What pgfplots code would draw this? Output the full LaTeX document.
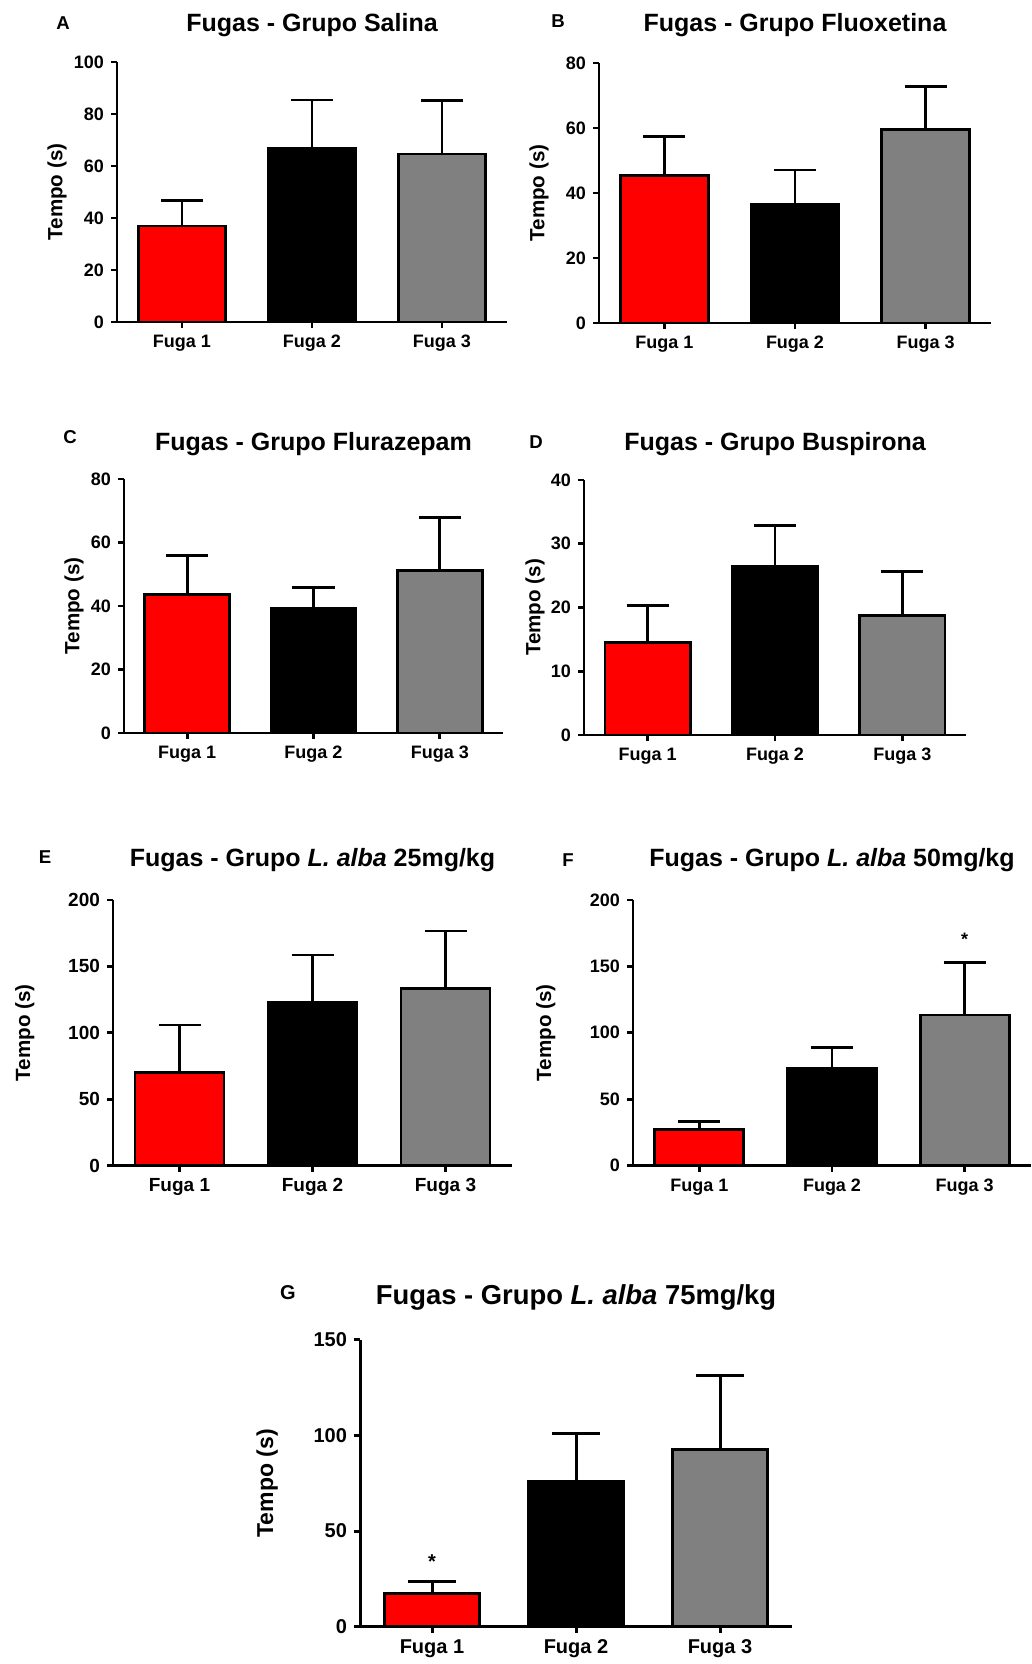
\documentclass[border=0pt]{standalone}
\usepackage{fontspec}
\setmainfont{Liberation Sans}
\usepackage{pgfplots}
\pgfplotsset{compat=1.18}
\definecolor{bred}{RGB}{255,0,0}
\definecolor{bgray}{RGB}{128,128,128}
\pgfplotsset{
 panel/.style={
  scale only axis,
  anchor=south west,
  axis x line=bottom, axis y line=left,
  axis line style={-, line width=1.4pt, black},
  xmin=-0.5, xmax=2.5, xtick={0,1,2}, xticklabels={Fuga 1, Fuga 2, Fuga 3},
  ymin=0,
  tick align=outside, major tick length=3pt,
  tick style={line width=1.4pt, black},
  ticklabel style={font=\bfseries\fontsize{9}{10}\selectfont},
  /pgf/number format/assume math mode=true,
  ylabel={Tempo (s)},
  ylabel style={font=\bfseries\fontsize{10.3}{12}\selectfont, anchor=center},
  title style={font=\bfseries\fontsize{12.5}{14}\selectfont, at={(0.5,1)}, anchor=center},
  ybar, bar width=0.67, bar shift=0pt,
  clip=false,
 },
 eb/.style={draw=black, line width=1.4pt,
  error bars/y dir=plus, error bars/y explicit,
  error bars/error bar style={line width=1.4pt, black},
  error bars/error mark options={rotate=90, line width=1.4pt, mark size=10.5pt, black}},
 ebg/.style={draw=black, line width=1.5pt,
  error bars/y dir=plus, error bars/y explicit,
  error bars/error bar style={line width=1.5pt, black},
  error bars/error mark options={rotate=90, line width=1.5pt, mark size=12pt, black}},
}
\begin{document}
\begin{tikzpicture}
\path[use as bounding box] (0,0) rectangle (516pt,832pt);
\tikzset{plabel/.style={font=\bfseries\fontsize{9.3}{10}\selectfont, anchor=center}}
\node[plabel] at (31.5pt,820.5pt) {A};
\node[plabel] at (279pt,821.5pt) {B};
\node[plabel] at (35pt,613.5pt) {C};
\node[plabel] at (268pt,611pt) {D};
\node[plabel] at (22.5pt,403.5pt) {E};
\node[plabel] at (284pt,402pt) {F};
\node[plabel, font=\bfseries\fontsize{10}{11}\selectfont] at (144pt,185.5pt) {G};

% A
\begin{axis}[panel, at={(58.5pt,671pt)}, width=195pt, height=130pt,
  ymax=100, ytick={0,20,...,100},
  title={Fugas - Grupo Salina}, title style={yshift=12.5pt},
  ylabel style={at={(axis description cs:-0.154,0.5)}}]
\addplot[fill=bred, eb] coordinates {(0,36.9) +- (0,9.8)};
\addplot[fill=black, eb] coordinates {(1,66.8) +- (0,18.6)};
\addplot[fill=bgray, eb] coordinates {(2,64.6) +- (0,20.5)};
\end{axis}

% B
\begin{axis}[panel, at={(299.5pt,670.5pt)}, width=196pt, height=130pt,
  ymax=80, ytick={0,20,...,80},
  title={Fugas - Grupo Fluoxetina}, title style={yshift=13pt},
  ylabel style={at={(axis description cs:-0.153,0.5)}}]
\addplot[fill=bred, eb] coordinates {(0,45.5) +- (0,12.0)};
\addplot[fill=black, eb] coordinates {(1,36.6) +- (0,10.5)};
\addplot[fill=bgray, eb] coordinates {(2,59.6) +- (0,13.1)};
\end{axis}

% C
\begin{axis}[panel, at={(62pt,465.5pt)}, width=189.5pt, height=127pt,
  ymax=80, ytick={0,20,...,80},
  title={Fugas - Grupo Flurazepam}, title style={yshift=11.5pt},
  ylabel style={at={(axis description cs:-0.132,0.5)}}]
\addplot[fill=bred, eb] coordinates {(0,43.5) +- (0,12.3)};
\addplot[fill=black, eb] coordinates {(1,39.3) +- (0,6.6)};
\addplot[fill=bgray, eb] coordinates {(2,51.3) +- (0,16.5)};
\end{axis}

% D
\begin{axis}[panel, at={(292pt,464.5pt)}, width=191pt, height=127.5pt,
  ymax=40, ytick={0,10,...,40},
  title={Fugas - Grupo Buspirona}, title style={yshift=12pt},
  ylabel style={at={(axis description cs:-0.128,0.5)}}]
\addplot[fill=bred, eb] coordinates {(0,14.5) +- (0,5.8)};
\addplot[fill=black, eb] coordinates {(1,26.4) +- (0,6.4)};
\addplot[fill=bgray, eb] coordinates {(2,18.7) +- (0,7.0)};
\end{axis}

% E
\begin{axis}[panel, at={(56.5pt,249.2pt)}, width=199.5pt, height=132.8pt,
  ymax=200, ytick={0,50,...,200},
  ticklabel style={font=\bfseries\fontsize{9.5}{10}\selectfont},
  title={Fugas - Grupo \textit{L. alba} 25mg/kg}, title style={yshift=14pt},
  ylabel style={at={(axis description cs:-0.221,0.5)}}]
\addplot[fill=bred, eb] coordinates {(0,70.3) +- (0,35.6)};
\addplot[fill=black, eb] coordinates {(1,122.7) +- (0,35.9)};
\addplot[fill=bgray, eb] coordinates {(2,133.5) +- (0,43.2)};
\end{axis}

% F
\begin{axis}[panel, at={(316.5pt,249.2pt)}, width=199pt, height=132.8pt,
  ymax=200, ytick={0,50,...,200},
  title={Fugas - Grupo \textit{L. alba} 50mg/kg}, title style={yshift=14pt},
  ylabel style={at={(axis description cs:-0.219,0.5)}}]
\addplot[fill=bred, eb] coordinates {(0,26.9) +- (0,6.2)};
\addplot[fill=black, eb] coordinates {(1,73.3) +- (0,15.8)};
\addplot[fill=bgray, eb] coordinates {(2,113.4) +- (0,39.4)};
\node[font=\bfseries\fontsize{9}{10}\selectfont, anchor=base] at (axis cs:2,165.5) {*};
\end{axis}

% G
\begin{axis}[panel, at={(180pt,18.7pt)}, width=216pt, height=143.3pt,
  ymax=150, ytick={0,50,...,150}, bar width=0.66,
  axis line style={line width=1.5pt}, tick style={line width=1.5pt},
  ticklabel style={font=\bfseries\fontsize{10}{11}\selectfont},
  ylabel style={font=\bfseries\fontsize{11.5}{13}\selectfont},
  title={Fugas - Grupo \textit{L. alba} 75mg/kg},
  title style={font=\bfseries\fontsize{13.7}{15}\selectfont, yshift=15.5pt},
  ylabel style={at={(axis description cs:-0.215,0.5)}}]
\addplot[fill=bred, ebg] coordinates {(0,17.5) +- (0,6.0)};
\addplot[fill=black, ebg] coordinates {(1,75.9) +- (0,25.3)};
\addplot[fill=bgray, ebg] coordinates {(2,92.8) +- (0,38.5)};
\node[font=\bfseries\fontsize{10}{11}\selectfont, anchor=base] at (axis cs:0,30.6) {*};
\end{axis}
\end{tikzpicture}
\end{document}
